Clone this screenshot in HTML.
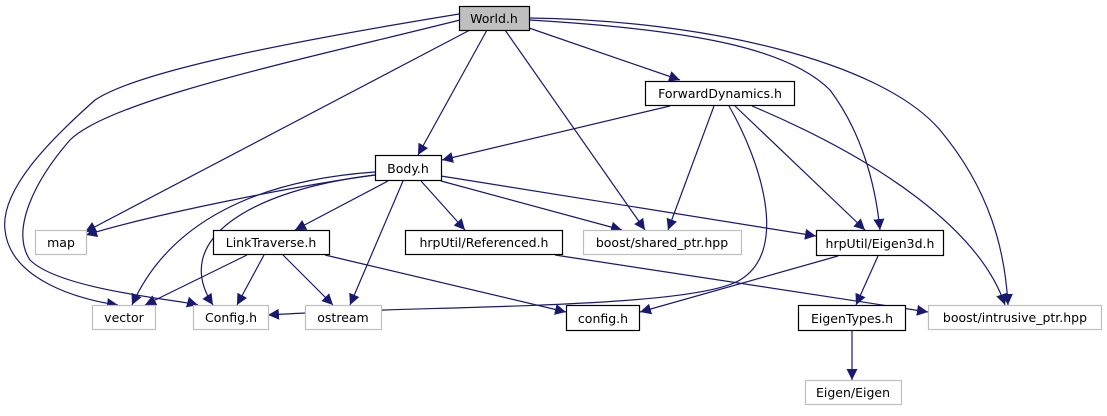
<!DOCTYPE html>
<html><head><meta charset="utf-8"><style>
html,body{margin:0;padding:0;background:#fff;}
svg text{font-family:"DejaVu Sans","Liberation Sans",sans-serif;font-size:12.5px;fill:#000;}
</style></head><body>
<svg width="1107" height="411" viewBox="0 0 1107 411" xmlns="http://www.w3.org/2000/svg">
<defs><marker id="a" viewBox="0 0 10 10" refX="10" refY="5" markerWidth="11" markerHeight="11" markerUnits="userSpaceOnUse" orient="auto"><path d="M0,0 L10,5 L0,10 z" fill="#191970"/></marker></defs>
<g fill="none" stroke="#191970" stroke-width="1.2" marker-end="url(#a)">
<path d="M529,28 L680,80"/>
<path d="M487,30 L418,155"/>
<path d="M470,30 L85,232"/>
<path d="M505,30 L645,230"/>
<path d="M529,20 C700,30 790,50 830,90 C860,130 875,180 880,230"/>
<path d="M529,18 C700,20 880,60 940,130 C990,190 1005,250 1008,305"/>
<path d="M459,14 C300,40 140,70 95,100 C50,140 0,190 5,230 C10,280 80,300 118,305"/>
<path d="M460,20 C300,60 110,100 70,140 C35,180 10,230 30,260 C60,290 180,300 198,305"/>
<path d="M670,106 L442,160"/>
<path d="M714,106 L668,230"/>
<path d="M729,106 C760,160 790,250 740,280 C690,310 420,305 268,315"/>
<path d="M735,106 L865,230"/>
<path d="M752,106 C880,160 980,230 1005,305"/>
<path d="M375,175 C300,185 150,215 86,235"/>
<path d="M375,172 C260,180 170,220 132,305"/>
<path d="M375,175 C250,190 170,240 213,305"/>
<path d="M388,181 L295,230"/>
<path d="M403,181 L350,305"/>
<path d="M421,181 L465,230"/>
<path d="M441,181 L622,230"/>
<path d="M441,176 L816,236"/>
<path d="M247,255 L145,305"/>
<path d="M264,255 L237,305"/>
<path d="M283,255 L333,305"/>
<path d="M325,255 L566,312"/>
<path d="M555,255 L928,312"/>
<path d="M838,256 L640,312"/>
<path d="M878,256 L856,305"/>
<path d="M852,330 L852,380"/>
</g>
<g stroke-width="1.2">
<rect x="459.5" y="6.5" width="70" height="24" fill="#bfbfbf" stroke="#000"/>
<rect x="645.5" y="81.5" width="149" height="24" fill="#fff" stroke="#000"/>
<rect x="375.5" y="155.5" width="66" height="25" fill="#fff" stroke="#000"/>
<rect x="35.5" y="230.5" width="51" height="24" fill="#fff" stroke="#bfbfbf"/>
<rect x="213.5" y="230.5" width="116" height="24" fill="#fff" stroke="#000"/>
<rect x="405.5" y="230.5" width="157" height="24" fill="#fff" stroke="#000"/>
<rect x="583.5" y="230.5" width="158" height="24" fill="#fff" stroke="#bfbfbf"/>
<rect x="816.5" y="230.5" width="127" height="25" fill="#fff" stroke="#000"/>
<rect x="92.5" y="305.5" width="63" height="24" fill="#fff" stroke="#bfbfbf"/>
<rect x="193.5" y="305.5" width="75" height="24" fill="#fff" stroke="#bfbfbf"/>
<rect x="305.5" y="305.5" width="76" height="24" fill="#fff" stroke="#bfbfbf"/>
<rect x="566.5" y="305.5" width="73" height="25" fill="#fff" stroke="#000"/>
<rect x="798.5" y="305.5" width="107" height="25" fill="#fff" stroke="#000"/>
<rect x="928.5" y="305.5" width="173" height="24" fill="#fff" stroke="#bfbfbf"/>
<rect x="805.5" y="380.5" width="96" height="24" fill="#fff" stroke="#bfbfbf"/>
</g>
<g text-anchor="middle">
<text x="494" y="23">World.h</text>
<text x="720" y="98">ForwardDynamics.h</text>
<text x="408" y="173">Body.h</text>
<text x="61" y="247">map</text>
<text x="271" y="247">LinkTraverse.h</text>
<text x="484" y="247">hrpUtil/Referenced.h</text>
<text x="662" y="247">boost/shared_ptr.hpp</text>
<text x="880" y="248">hrpUtil/Eigen3d.h</text>
<text x="124" y="322">vector</text>
<text x="231" y="322">Config.h</text>
<text x="343" y="322">ostream</text>
<text x="603" y="323">config.h</text>
<text x="852" y="323">EigenTypes.h</text>
<text x="1015" y="322">boost/intrusive_ptr.hpp</text>
<text x="853" y="397">Eigen/Eigen</text>
</g>
</svg>
</body></html>
